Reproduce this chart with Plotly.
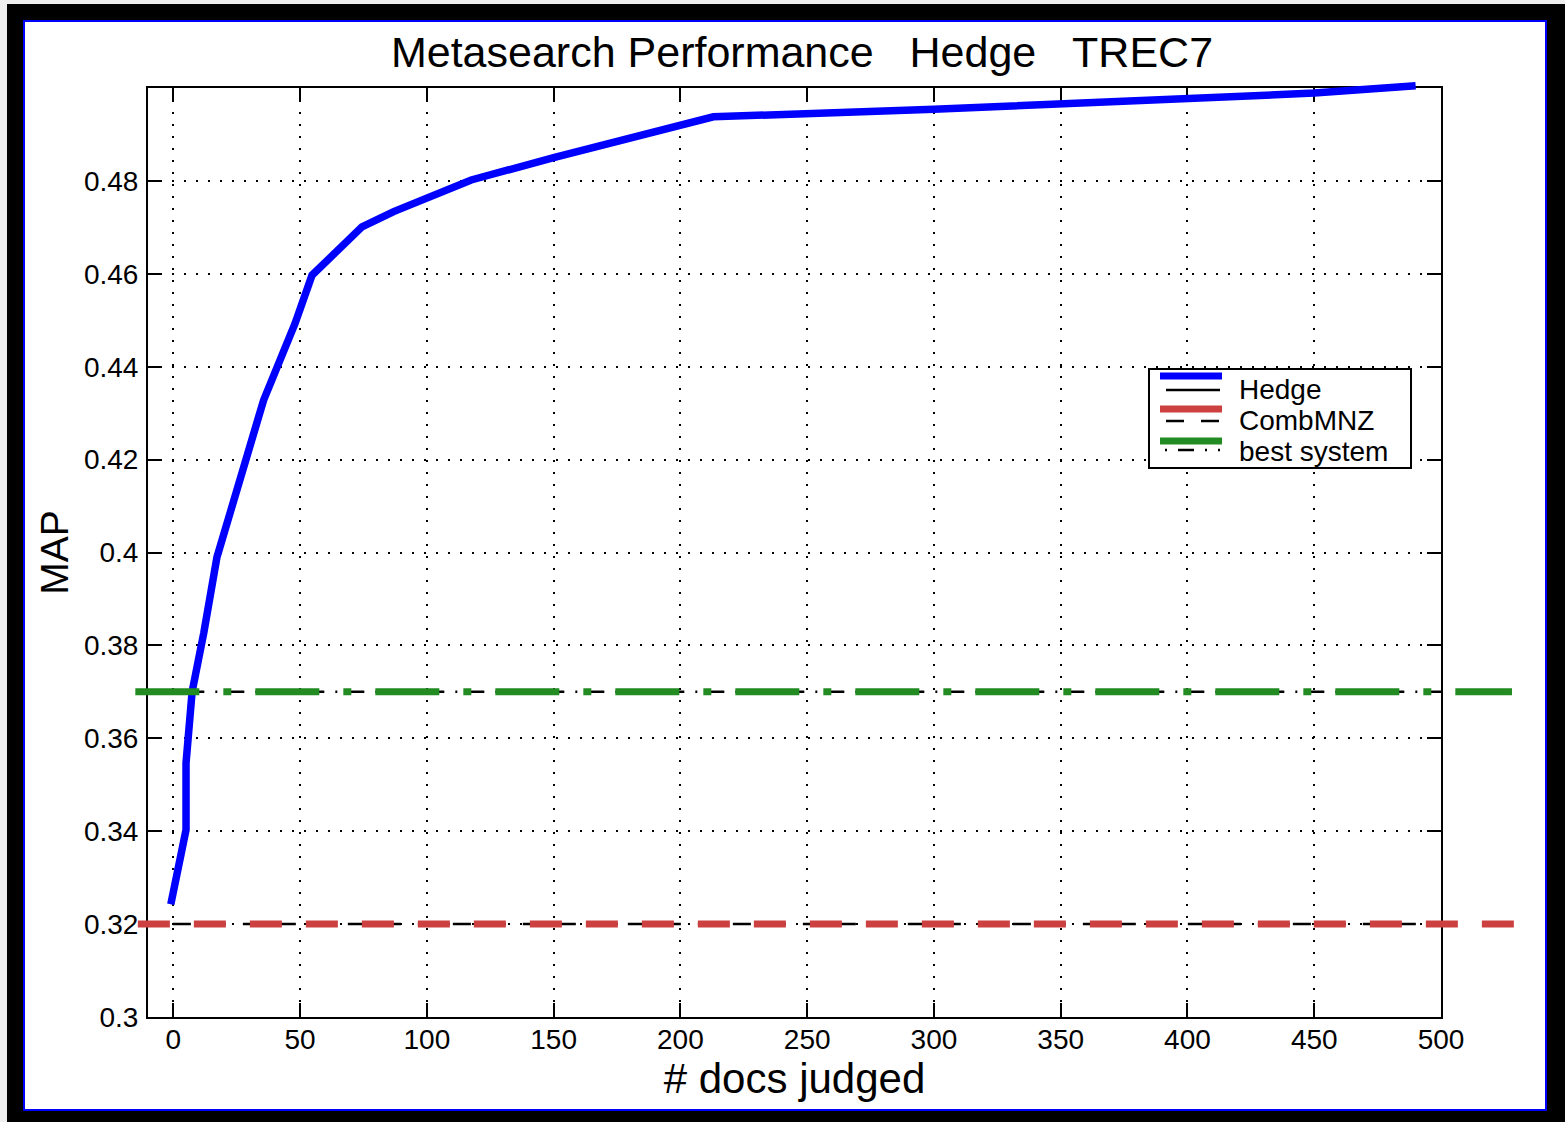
import plotly.graph_objects as go

# ---------------- data ----------------
hedge_x = [-1, 5, 5, 7.4, 12, 17.2, 35.6, 48, 54.7, 74.4, 86.9, 117.5, 150, 213, 300, 400, 450, 490]
hedge_y = [0.3243, 0.3403, 0.3547, 0.370, 0.3827, 0.399, 0.4328, 0.4493, 0.4597, 0.4701,
           0.4734, 0.4802, 0.4850, 0.4938, 0.4954, 0.4976, 0.4989, 0.5005]
combmnz_x = [-14, 529]
combmnz_map = 0.32
best_x = [-15, 528]
best_map = 0.37

series_names = ["Hedge", "CombMNZ", "best system"]
series_colors = ["#0000ff", "#cc4040", "#228b22"]
series_dash = ["solid", "32px,24px", "64px,24px,8px,24px"]
black_dash = ["solid", "18px,17px", "2px,11px,16px,11px"]

x_tickvals = [0, 50, 100, 150, 200, 250, 300, 350, 400, 450, 500]
y_tickvals = [0.30, 0.32, 0.34, 0.36, 0.38, 0.40, 0.42, 0.44, 0.46, 0.48]
y_ticktext = ["0.3", "0.32", "0.34", "0.36", "0.38", "0.4", "0.42", "0.44", "0.46", "0.48"]

X_RANGE = [-10, 500]
Y_RANGE = [0.3, 0.5]

# ---------------- geometry (pixels) ----------------
W, H = 1565, 1122
L, R, T, B = 100, 1530, 40, 1060        # unclipped overlay subplot box
PL, PR, PT, PB = 148, 1441, 88, 1017    # main axes box


def px2x(px):
    return (px - L) / (R - L)


def py2y(py):
    return (B - py) / (B - T)


ux = (X_RANGE[1] - X_RANGE[0]) / (PR - PL)
uy = (Y_RANGE[1] - Y_RANGE[0]) / (PB - PT)
x2_range = [X_RANGE[0] - (PL - L) * ux, X_RANGE[1] + (R - PR) * ux]
y2_range = [Y_RANGE[0] - (B - PB) * uy, Y_RANGE[1] + (PT - T) * uy]

FONT = "Liberation Sans, Arial, sans-serif"

fig = go.Figure()

# thin black companion lines (clipped to the axes)
fig.add_trace(go.Scatter(x=hedge_x, y=hedge_y, mode="lines", xaxis="x", yaxis="y",
                         line=dict(color="black", width=2, dash=black_dash[0]),
                         showlegend=False, hoverinfo="skip"))
fig.add_trace(go.Scatter(x=combmnz_x, y=[combmnz_map] * len(combmnz_x), mode="lines",
                         xaxis="x", yaxis="y",
                         line=dict(color="black", width=2.5, dash=black_dash[1]),
                         showlegend=False, hoverinfo="skip"))
fig.add_trace(go.Scatter(x=best_x, y=[best_map] * len(best_x), mode="lines",
                         xaxis="x", yaxis="y",
                         line=dict(color="black", width=2.5, dash=black_dash[2]),
                         showlegend=False, hoverinfo="skip"))

# thick coloured lines (unclipped overlay subplot with identical scale)
fig.add_trace(go.Scatter(x=hedge_x, y=hedge_y, mode="lines", xaxis="x2", yaxis="y2",
                         name=series_names[0],
                         line=dict(color=series_colors[0], width=7.5, dash=series_dash[0]),
                         showlegend=False))
fig.add_trace(go.Scatter(x=combmnz_x, y=[combmnz_map] * len(combmnz_x), mode="lines",
                         xaxis="x2", yaxis="y2", name=series_names[1],
                         line=dict(color=series_colors[1], width=7, dash=series_dash[1]),
                         showlegend=False))
fig.add_trace(go.Scatter(x=best_x, y=[best_map] * len(best_x), mode="lines",
                         xaxis="x2", yaxis="y2", name=series_names[2],
                         line=dict(color=series_colors[2], width=7, dash=series_dash[2]),
                         showlegend=False))

shapes = [
    # page frame
    dict(type="rect", xref="paper", yref="paper", layer="below",
         x0=px2x(0), x1=px2x(7), y0=py2y(W), y1=py2y(0),
         fillcolor="#eeeeee", line=dict(width=0)),
    dict(type="rect", xref="paper", yref="paper", layer="below",
         x0=px2x(0), x1=px2x(W), y0=py2y(4), y1=py2y(0),
         fillcolor="#eeeeee", line=dict(width=0)),
    dict(type="rect", xref="paper", yref="paper", layer="below",
         x0=px2x(24), x1=px2x(1546), y0=py2y(1110), y1=py2y(21),
         fillcolor="white", line=dict(color="#0000ff", width=2)),
    # legend box
    dict(type="rect", xref="paper", yref="paper", layer="above",
         x0=px2x(1149), x1=px2x(1411), y0=py2y(468), y1=py2y(369),
         fillcolor="white", line=dict(color="black", width=2)),
]

annotations = []
row_color_y = [376, 409, 441]
row_black_y = [390, 421, 450]
row_text_y = [389, 420, 451]
for i, name in enumerate(series_names):
    shapes.append(dict(type="line", xref="paper", yref="paper", layer="above",
                       x0=px2x(1160), x1=px2x(1222), y0=py2y(row_color_y[i]), y1=py2y(row_color_y[i]),
                       line=dict(color=series_colors[i], width=7)))
    bx0 = 1166 if i != 2 else 1165
    shapes.append(dict(type="line", xref="paper", yref="paper", layer="above",
                       x0=px2x(bx0), x1=px2x(1220), y0=py2y(row_black_y[i]), y1=py2y(row_black_y[i]),
                       line=dict(color="black", width=2.5, dash=black_dash[i])))
    annotations.append(dict(xref="paper", yref="paper", x=px2x(1237), y=py2y(row_text_y[i]),
                            xanchor="left", yanchor="middle", showarrow=False, text=name,
                            font=dict(family=FONT, size=28, color="black")))

axis_common = dict(
    showline=True, linecolor="black", linewidth=2, mirror="ticks",
    ticks="inside", ticklen=14, tickwidth=2, tickcolor="black",
    showgrid=True, gridcolor="black", gridwidth=1.6, griddash="2px,10px",
    zeroline=False, tickfont=dict(family=FONT, size=28, color="black"),
)

fig.update_layout(
    width=W, height=H,
    margin=dict(l=L, r=W - R, t=T, b=H - B, pad=0),
    paper_bgcolor="black", plot_bgcolor="rgba(0,0,0,0)",
    font=dict(family=FONT, color="black"),
    title=dict(text="Metasearch Performance\u00a0\u00a0\u00a0Hedge\u00a0\u00a0\u00a0TREC7",
               xref="paper", x=px2x(802), xanchor="center",
               yref="container", y=1 - 52 / H, yanchor="middle",
               font=dict(family=FONT, size=43, color="black")),
    xaxis=dict(domain=[px2x(PL), px2x(PR)], range=X_RANGE, tickvals=x_tickvals,
               anchor="y", ticklabelstandoff=-4,
               title=dict(text="# docs judged", font=dict(family=FONT, size=42, color="black"),
                          standoff=0),
               **axis_common),
    yaxis=dict(domain=[py2y(PB), py2y(PT)], range=Y_RANGE, tickvals=y_tickvals,
               ticktext=y_ticktext, anchor="x", ticklabelstandoff=2,
               title=dict(text="MAP", font=dict(family=FONT, size=39, color="black"),
                          standoff=3),
               **axis_common),
    xaxis2=dict(domain=[0, 1], range=x2_range, anchor="y2", visible=False),
    yaxis2=dict(domain=[0, 1], range=y2_range, anchor="x2", visible=False),
    shapes=shapes,
    annotations=annotations,
    showlegend=False,
)

fig.write_html("out.html")
